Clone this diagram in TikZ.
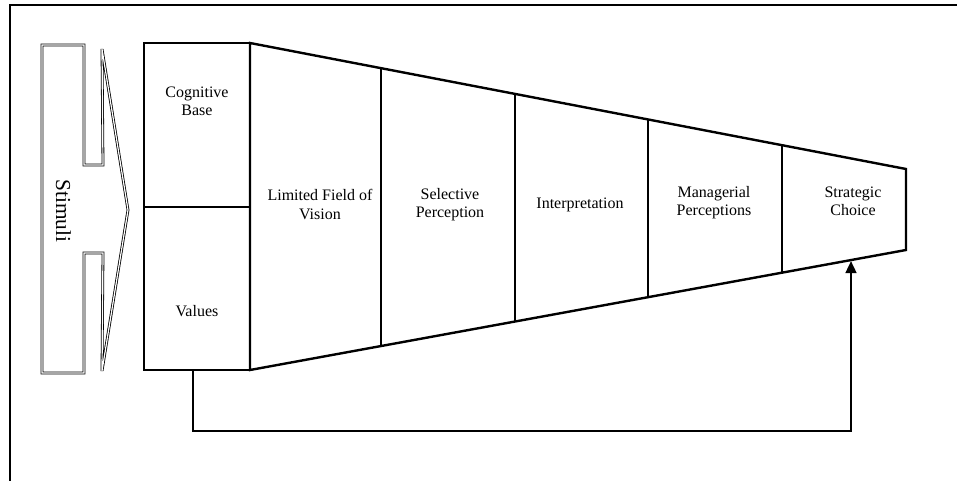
\documentclass[tikz,border=0pt]{standalone}
\usepackage{fontspec}
\setmainfont{Liberation Serif}
\usetikzlibrary{arrows.meta}
\tikzset{
  px/.style={x=0.75pt,y=-0.75pt},
  heavy/.style={line width=1.8pt, line join=miter},
  frameline/.style={line width=1.8pt},
  dbl/.style={line width=0.6pt, double=white, double distance=0.9pt, line join=miter, miter limit=4},
  lbl/.style={align=center, inner sep=0pt, font=\fontsize{12}{13.8}\selectfont},
  biglbl/.style={inner sep=0pt, font=\fontsize{16}{18}\selectfont, rotate=-90},
  fb/.style={line width=1.8pt, -{Triangle[width=8pt,length=9pt]}}
}
\begin{document}
\begin{tikzpicture}[px]
\useasboundingbox (0,0) rectangle (957,481);
% outer frame (top and left only)
\draw[frameline] (10,481) -- (10,5) -- (957,5);

% Stimuli block arrow
\draw[dbl] (42,45) -- (84,45) -- (84,165) -- (103,165) -- (102,49) -- (128,210)
  -- (102,371) -- (103,253) -- (84,253) -- (84,373) -- (42,373) -- cycle;
\node[biglbl] (stim) at (63.5,211) {Stimuli};

% corners
\coordinate (tl) at (250,43);
\coordinate (bl) at (250,370);
\coordinate (tr) at (906,169);
\coordinate (br) at (906,250);

% cognitive base / values boxes
\draw[heavy] (144,43) rectangle (250,207);
\draw[heavy] (144,207) rectangle (250,370);

% funnel
\draw[heavy] (tl) -- (tr) -- (br) -- (bl) -- cycle;
\coordinate (d1t) at (381,68.2);  \coordinate (d1b) at (381,346.0);
\coordinate (d2t) at (515,93.9);  \coordinate (d2b) at (515,321.5);
\coordinate (d3t) at (648,119.4); \coordinate (d3b) at (648,297.2);
\coordinate (d4t) at (782,145.2); \coordinate (d4b) at (782,272.7);
\draw[heavy] (d1t) -- (d1b);
\draw[heavy] (d2t) -- (d2b);
\draw[heavy] (d3t) -- (d3b);
\draw[heavy] (d4t) -- (d4b);

% labels
\node[lbl] (cog) at (197,101.5) {Cognitive\\Base};
\node[lbl] (val) at (197,311) {Values};
\node[lbl] (lfv) at (320,204.5) {Limited Field of\\Vision};
\node[lbl] (sp) at (450,204.5) {Selective\\Perception};
\node[lbl] (int) at (580,205) {Interpretation};
\node[lbl] (mp) at (714,202.5) {Managerial\\Perceptions};
\node[lbl] (sc) at (853,201.5) {Strategic\\Choice};

% feedback arrow
\coordinate (fbs) at (193,370);
\coordinate (fbe) at (851,261);
\draw[fb] (fbs) -- ++(0,61) -| (fbe);
\end{tikzpicture}
\end{document}
